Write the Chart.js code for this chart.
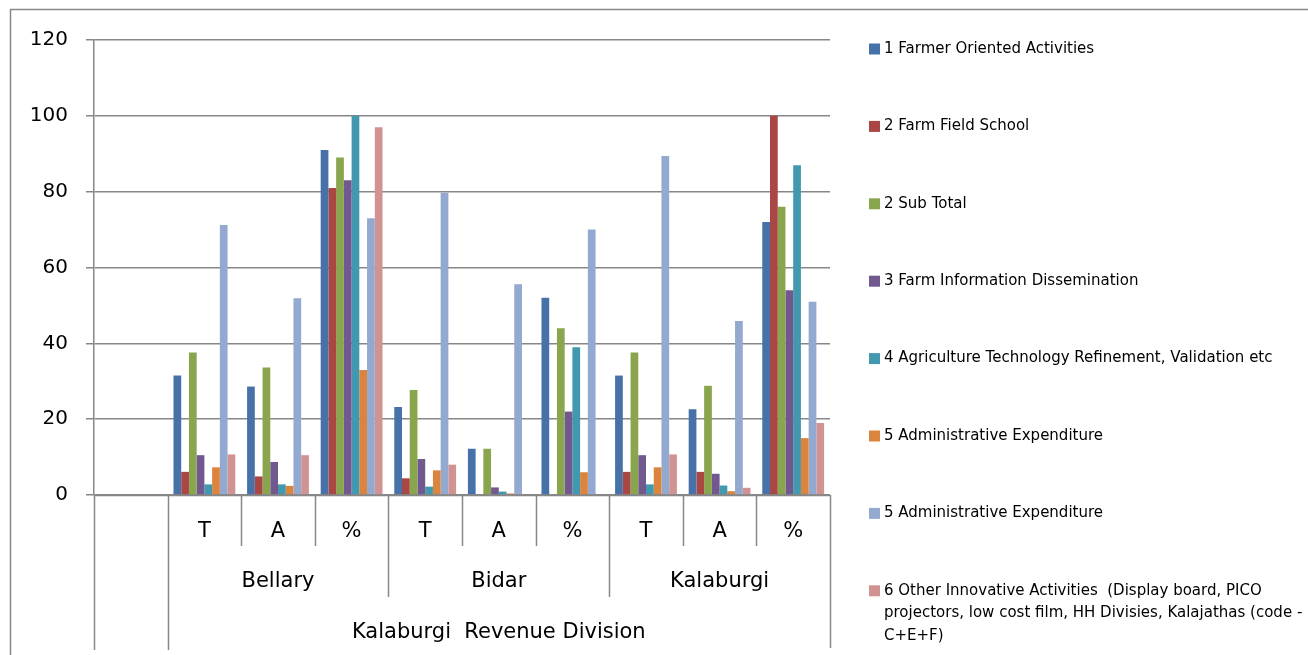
<!DOCTYPE html>
<html>
<head>
<meta charset="utf-8">
<script src="https://cdn.jsdelivr.net/npm/chart.js@4.4.1/dist/chart.umd.min.js"></script>
<style>
  html, body { margin: 0; padding: 0; background: #fff; }
  #wrap { width: 1308px; height: 655px; }
</style>
</head>
<body>
<div id="wrap"><canvas id="chart" width="1308" height="655"></canvas></div>
<script>
// categories: first slot is empty, then T / A / % for each district
const subLabels = ["", "T", "A", "%", "T", "A", "%", "T", "A", "%"];
const districts = ["Bellary", "Bidar", "Kalaburgi"];
const divisionLabel = "Kalaburgi  Revenue Division";
const yTicks = [0, 20, 40, 60, 80, 100, 120];

const seriesNames = [
    "1 Farmer Oriented Activities",
    "2 Farm Field School",
    "2 Sub Total",
    "3 Farm Information Dissemination",
    "4 Agriculture Technology Refinement, Validation etc",
    "5 Administrative Expenditure",
    "5 Administrative Expenditure",
    "6 Other Innovative Activities  (Display board, PICO projectors, low cost film, HH Divisies, Kalajathas (code - C+E+F)"
];
const farmerOriented = [null, 31.5, 28.6, 91, 23.2, 12.2, 52, 31.5, 22.6, 72];
const farmFieldSchool = [null, 6.1, 4.9, 81, 4.4, 0, 0, 6.1, 6.1, 100];
const subTotal = [null, 37.6, 33.6, 89, 27.7, 12.2, 44, 37.6, 28.8, 76];
const farmInfo = [null, 10.5, 8.7, 83, 9.5, 2.0, 22, 10.5, 5.6, 54];
const agriTech = [null, 2.8, 2.8, 100, 2.2, 0.9, 39, 2.8, 2.5, 87];
const adminExpA = [null, 7.3, 2.4, 33, 6.5, 0.4, 6, 7.3, 1.0, 15];
const adminExpB = [null, 71.2, 51.9, 73, 79.7, 55.6, 70, 89.4, 45.9, 51];
const otherInnovative = [null, 10.7, 10.5, 97, 8.0, 0, 0, 10.7, 1.9, 19];

const seriesValues = [farmerOriented, farmFieldSchool, subTotal, farmInfo, agriTech, adminExpA, adminExpB, otherInnovative];
const colors = ["#4672A9", "#AA4643", "#89A54E", "#71588F", "#4198AF", "#DB843D", "#93A9CF", "#D19392"];

const GRID = "#878787";
const FONT = "'DejaVu Sans', sans-serif";

const datasets = seriesNames.map((name, i) => ({
    label: name,
    data: seriesValues[i],
    backgroundColor: colors[i],
    borderWidth: 0
}));

// multi-level category axis, frame and legend
const decorPlugin = {
    id: "decor",
    beforeDraw(chart) {
        const ctx = chart.ctx;
        ctx.save();
        ctx.strokeStyle = GRID;
        ctx.lineWidth = 1.5;
        ctx.strokeRect(10.5, 9.5, 1400, 700);
        ctx.restore();
    },
    afterDraw(chart) {
        const ctx = chart.ctx;
        const xs = chart.scales.x;
        const area = chart.chartArea;
        const step = xs.getPixelForValue(1) - xs.getPixelForValue(0);
        const edge = i => xs.getPixelForValue(0) - step / 2 + i * step;
        const y0 = area.bottom;

        ctx.save();
        ctx.strokeStyle = GRID;
        ctx.lineWidth = 1.5;
        const vline = (x, y1, y2) => {
            const px = Math.round(x) + 0.5;
            ctx.beginPath(); ctx.moveTo(px, y1); ctx.lineTo(px, y2); ctx.stroke();
        };
        // axis line redrawn on top of the bars
        ctx.beginPath(); ctx.moveTo(area.left, y0 + 0.5); ctx.lineTo(area.right, y0 + 0.5); ctx.stroke();
        vline(edge(0), y0, 650);
        vline(edge(1), y0, 650);
        vline(edge(10), y0, 648);
        [4, 7].forEach(i => vline(edge(i), y0, 597));
        [2, 3, 5, 6, 8, 9].forEach(i => vline(edge(i), y0, 546));

        ctx.fillStyle = "#000";
        ctx.textAlign = "center";
        ctx.textBaseline = "middle";
        ctx.font = "21px " + FONT;
        subLabels.forEach((s, i) => {
            if (s) ctx.fillText(s, xs.getPixelForValue(i), 532);
        });
        districts.forEach((d, k) => {
            ctx.fillText(d, (edge(1 + 3 * k) + edge(4 + 3 * k)) / 2, 582);
        });
        ctx.fillText(divisionLabel, (edge(1) + edge(10)) / 2, 633);

        // legend
        ctx.font = "15px " + FONT;
        ctx.textAlign = "left";
        const lx = 869, tx = 884, maxW = 420;
        chart.data.datasets.forEach((ds, i) => {
            const cy = 49 + i * 77.4;
            ctx.fillStyle = ds.backgroundColor;
            ctx.fillRect(lx, cy - 5.5, 11, 11);
            ctx.fillStyle = "#000";
            const words = ds.label.split(" ");
            const lines = [];
            let cur = "";
            words.forEach(w => {
                const test = cur === "" ? w : cur + " " + w;
                if (ctx.measureText(test).width > maxW && cur !== "") {
                    lines.push(cur);
                    cur = w;
                } else {
                    cur = test;
                }
            });
            lines.push(cur);
            lines.forEach((ln, j) => ctx.fillText(ln, tx, cy + j * 22.5));
        });
        ctx.restore();
    }
};

new Chart(document.getElementById("chart").getContext("2d"), {
    type: "bar",
    data: { labels: subLabels, datasets: datasets },
    options: {
        responsive: false,
        animation: false,
        layout: { padding: { top: 40, left: 0, right: 478, bottom: 0 } },
        plugins: { legend: { display: false }, tooltip: { enabled: false } },
        datasets: { bar: { categoryPercentage: 0.84, barPercentage: 1 } },
        scales: {
            x: {
                ticks: { display: false },
                grid: { display: false },
                border: { display: false },
                afterFit: s => { s.height = 160; s.paddingLeft = 0; s.paddingRight = 0; }
            },
            y: {
                min: 0,
                max: 120,
                afterBuildTicks: s => { s.ticks = yTicks.map(v => ({ value: v })); },
                ticks: { color: "#000", font: { family: FONT, size: 20 }, padding: 18 },
                grid: { color: GRID, lineWidth: 1.5, tickLength: 8 },
                border: { display: true, color: GRID, width: 1.5 },
                afterFit: s => { s.width = 94; s.paddingTop = 0; s.paddingBottom = 0; }
            }
        }
    },
    plugins: [decorPlugin]
});
</script>
</body>
</html>
